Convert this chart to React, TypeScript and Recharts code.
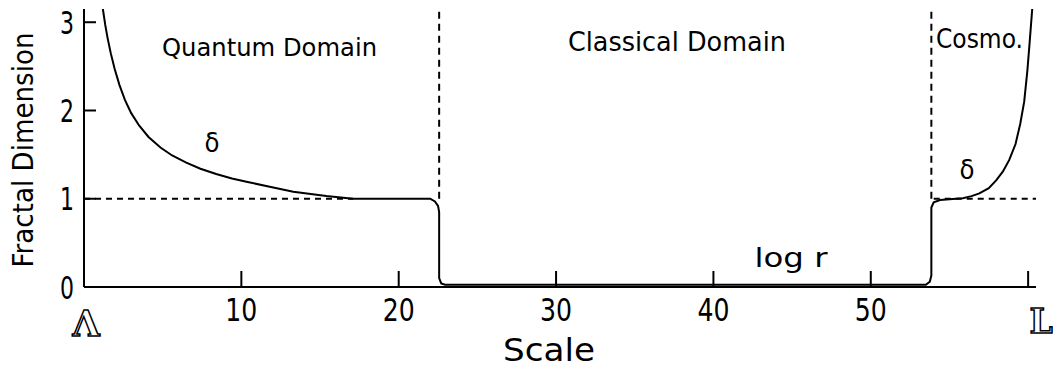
import { Line, LineChart, ReferenceDot, ReferenceLine, XAxis, YAxis } from "recharts";

// fractal dimension vs scale
const curveX = [
  1.2, 1.35, 1.5, 1.7, 1.95, 2.25, 2.6, 3.0, 3.5, 4.1, 4.86, 5.6, 6.5, 7.4, 8.4, 9.4, 10.4, 11.8,
  13.3, 15.4, 17.1, 22.0, 22.3, 22.5, 22.57, 22.57, 22.7, 22.95, 53.5, 53.75, 53.85, 53.85, 54.0,
  54.4, 55.0, 55.85, 56.4, 56.9, 57.5, 57.98, 58.4, 58.8, 59.2, 59.5, 59.75, 59.95, 60.1, 60.26,
];
const curveY = [
  3.15, 2.97, 2.82, 2.65, 2.47, 2.29, 2.12, 1.97, 1.83, 1.7, 1.58, 1.49, 1.41, 1.34, 1.28, 1.23,
  1.19, 1.135, 1.08, 1.03, 1.0, 1.0, 0.97, 0.92, 0.85, 0.1, 0.04, 0.025, 0.025, 0.06, 0.13, 0.9,
  0.96, 0.985, 0.995, 1.005, 1.03, 1.06, 1.12, 1.21, 1.31, 1.44, 1.62, 1.85, 2.1, 2.45, 2.78, 3.15,
];

const xTicks = [0, 10, 20, 30, 40, 50, 60];
const xTickLabels = ["Λ", "10", "20", "30", "40", "50", "L"];
const yTicks = [0, 1, 2, 3];
const sideTicks = [1, 2, 3];

// domain boundaries and the D = 1 guide
const quantumEnd = 22.57;
const cosmoStart = 53.85;
const guideLeftEnd = 17.1;
const guideRightStart = 54;

const noteText = ["Quantum Domain", "Classical Domain", "Cosmo.", "δ", "δ", "log r", "Scale", "Fractal Dimension"];
const noteX = [11.79, 37.68, 56.91, 8.13, 56.11, 44.93, 29.55, -3.24];
const noteY = [2.618, 2.674, 2.708, 1.53, 1.224, 0.227, -0.839, 1.552];

const X_MAX = 60.5;
const Y_MAX = 3.15;
const FONT = "'DejaVu Sans', sans-serif";

// font size / squeezed width per note
const noteFont = [
  { size: 25, len: 215 },
  { size: 27, len: 218 },
  { size: 27, len: 87 },
  { size: 26, len: 15 },
  { size: 26, len: 15 },
  { size: 26, len: 73 },
  { size: 32, len: 92 },
  { size: 29, len: 235, rotate: true },
];

const data = curveX.map((x, i) => ({ x, y: curveY[i] }));

function Outline({ x, y, size, children }: { x: number; y: number; size: number; children: string }) {
  return (
    <text
      x={x}
      y={y}
      textAnchor="middle"
      fontFamily="'DejaVu Serif', serif"
      fontWeight="bold"
      fontSize={size}
      fill="#fff"
      stroke="#000"
      strokeWidth={1.5}
    >
      {children}
    </text>
  );
}

function XTick(props: any) {
  const { x, y, payload } = props;
  const v = payload.value;
  const label = xTickLabels[xTicks.indexOf(v)];
  if (v === 0)
    return (
      <Outline x={x + 2} y={y + 49} size={35}>
        {label}
      </Outline>
    );
  if (v === 60)
    return (
      <g>
        <line x1={x} y1={y} x2={x} y2={y - 16} stroke="#000" strokeWidth={2} />
        <Outline x={x + 13} y={y + 46} size={33}>
          {label}
        </Outline>
      </g>
    );
  return (
    <g>
      <line x1={x} y1={y} x2={x} y2={y - 16} stroke="#000" strokeWidth={2} />
      <text
        x={x}
        y={y + 34}
        textAnchor="middle"
        fontFamily={FONT}
        fontSize={32}
        textLength={32}
        lengthAdjust="spacingAndGlyphs"
        fill="#000"
      >
        {label}
      </text>
    </g>
  );
}

function YTick(props: any) {
  const { x, y, payload } = props;
  return (
    <g>
      {payload.value > 0 && <line x1={x} y1={y} x2={x + 12} y2={y} stroke="#000" strokeWidth={2} />}
      <text
        x={x - 10}
        y={y + 11.5}
        textAnchor="end"
        fontFamily={FONT}
        fontSize={32}
        textLength={14}
        lengthAdjust="spacingAndGlyphs"
        fill="#000"
      >
        {payload.value}
      </text>
    </g>
  );
}

function RightTick(props: any) {
  const { x, y } = props;
  return <line x1={x} y1={y} x2={x - 8} y2={y} stroke="#000" strokeWidth={2} />;
}

export default function App() {
  return (
    <div style={{ position: "absolute", left: 0, top: 0, width: 1053, height: 369, background: "#fff" }}>
      <LineChart width={1053} height={369} data={data} margin={{ top: 9, right: 17, bottom: 0, left: 0 }}>
        <XAxis
          dataKey="x"
          type="number"
          domain={[0, X_MAX]}
          allowDataOverflow
          ticks={xTicks}
          interval={0}
          height={82}
          tickSize={0}
          tickMargin={0}
          tickLine={false}
          axisLine={{ stroke: "#000", strokeWidth: 2 }}
          tick={(p: any) => <XTick {...p} />}
        />
        <XAxis
          xAxisId="top"
          orientation="top"
          dataKey="x"
          type="number"
          domain={[0, X_MAX]}
          allowDataOverflow
          height={0}
          tick={false}
          tickLine={false}
          axisLine={{ stroke: "#000", strokeWidth: 2 }}
        />
        <YAxis
          type="number"
          domain={[0, Y_MAX]}
          allowDataOverflow
          ticks={yTicks}
          interval={0}
          width={84}
          tickSize={0}
          tickMargin={0}
          tickLine={false}
          axisLine={{ stroke: "#000", strokeWidth: 2 }}
          tick={(p: any) => <YTick {...p} />}
        />
        <YAxis
          yAxisId="right"
          orientation="right"
          type="number"
          domain={[0, Y_MAX]}
          allowDataOverflow
          ticks={sideTicks}
          interval={0}
          width={0}
          tickSize={0}
          tickMargin={0}
          tickLine={false}
          axisLine={{ stroke: "#000", strokeWidth: 2 }}
          tick={(p: any) => <RightTick {...p} />}
        />

        <ReferenceLine
          segment={[{ x: 0, y: 1 }, { x: guideLeftEnd, y: 1 }]}
          stroke="#000"
          strokeWidth={2}
          strokeDasharray="6 5"
        />
        <ReferenceLine
          segment={[{ x: guideRightStart, y: 1 }, { x: X_MAX, y: 1 }]}
          stroke="#000"
          strokeWidth={2}
          strokeDasharray="6 5"
        />
        <ReferenceLine
          segment={[{ x: quantumEnd, y: 1 }, { x: quantumEnd, y: Y_MAX }]}
          stroke="#000"
          strokeWidth={2}
          strokeDasharray="7 5"
        />
        <ReferenceLine
          segment={[{ x: cosmoStart, y: 1 }, { x: cosmoStart, y: Y_MAX }]}
          stroke="#000"
          strokeWidth={2}
          strokeDasharray="7 5"
        />

        <Line
          type="linear"
          dataKey="y"
          stroke="#000"
          strokeWidth={2}
          dot={false}
          activeDot={false}
          isAnimationActive={false}
        />

        {noteText.map((t, i) => (
          <ReferenceDot
            key={i}
            x={noteX[i]}
            y={noteY[i]}
            r={0}
            ifOverflow="visible"
            shape={(p: any) => (
              <text
                x={p.cx}
                y={p.cy}
                textAnchor="middle"
                fontFamily={FONT}
                fontSize={noteFont[i].size}
                textLength={noteFont[i].len}
                lengthAdjust="spacingAndGlyphs"
                fill="#000"
                transform={noteFont[i].rotate ? `rotate(-90, ${p.cx}, ${p.cy})` : undefined}
              >
                {t}
              </text>
            )}
          />
        ))}
      </LineChart>
    </div>
  );
}
